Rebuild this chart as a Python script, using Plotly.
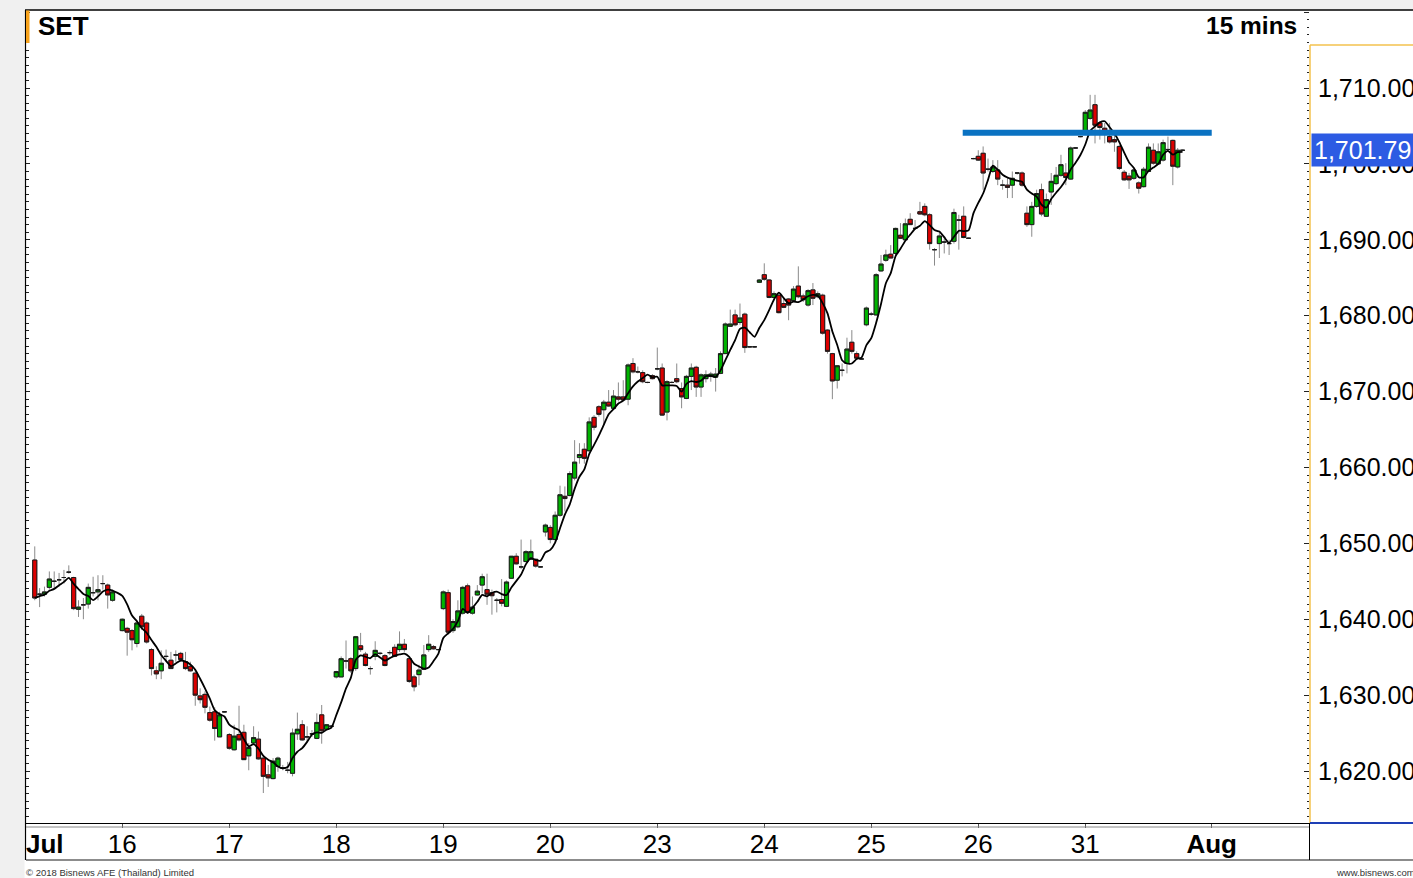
import plotly.graph_objects as go
import pandas as pd

# ---------------- data (15-minute bars, SET index) ----------------
day_labels = ["Jul", "16", "17", "18", "19", "20", "23", "24", "25", "26", "31"]
day_first_slot = [4, 0, 0, 0, 0, 0, 0, 0, 0, 0, 0]
slots_per_day = 22
aug_label = "Aug"
aug_slot = 4            # position of the "Aug" label inside the next (empty) day

# (open, high, low, close) per bar
jul13 = [(1647.8, 1649.6, 1642.5, 1642.8), (1643.3, 1644.1, 1641.6, 1643.3), (1643.3, 1644.3, 1643.0, 1643.6),
         (1644.2, 1646.3, 1643.9, 1645.3), (1645.0, 1646.3, 1644.1, 1645.0), (1645.2, 1646.1, 1644.3, 1645.2),
         (1645.5, 1646.5, 1644.7, 1645.5), (1646.2, 1647.1, 1646.0, 1646.2), (1645.5, 1645.6, 1641.2, 1641.4),
         (1641.3, 1642.5, 1640.3, 1641.6), (1641.9, 1642.8, 1640.0, 1641.9), (1642.0, 1644.7, 1641.4, 1644.2),
         (1643.5, 1645.6, 1643.0, 1643.5), (1643.6, 1645.8, 1642.5, 1643.9), (1644.7, 1645.8, 1643.9, 1644.7),
         (1644.5, 1644.7, 1641.4, 1643.2), (1642.5, 1643.9, 1642.3, 1643.6)]
jul16 = [(1638.5, 1640.1, 1638.4, 1640.0), (1638.8, 1639.0, 1635.2, 1638.3), (1638.5, 1638.7, 1635.9, 1637.3),
         (1636.8, 1639.9, 1636.3, 1639.5), (1640.4, 1640.7, 1638.6, 1639.0), (1639.5, 1639.7, 1636.8, 1637.0),
         (1636.0, 1636.2, 1632.6, 1633.5), (1633.2, 1633.8, 1632.1, 1632.8), (1633.2, 1635.9, 1632.1, 1634.2),
         (1635.1, 1636.0, 1634.4, 1635.1), (1634.6, 1635.7, 1633.5, 1633.5), (1635.3, 1635.9, 1634.4, 1635.3),
         (1635.5, 1635.7, 1634.4, 1634.7), (1634.4, 1635.7, 1633.3, 1633.5), (1633.8, 1634.4, 1633.1, 1633.2),
         (1632.9, 1633.3, 1628.6, 1630.0), (1629.9, 1630.9, 1628.9, 1629.4), (1630.1, 1630.5, 1627.6, 1628.4),
         (1627.7, 1628.5, 1626.5, 1626.7), (1627.8, 1628.4, 1624.0, 1625.6), (1624.5, 1627.8, 1624.5, 1627.4),
         (1627.8, 1627.9, 1627.7, 1627.8)]
jul17 = [(1624.8, 1625.0, 1622.8, 1623.0), (1622.8, 1626.1, 1622.7, 1624.6), (1624.8, 1628.6, 1623.9, 1624.1),
         (1625.1, 1626.1, 1621.5, 1621.5), (1622.0, 1623.7, 1620.1, 1623.1), (1623.7, 1625.9, 1623.4, 1624.4),
         (1624.2, 1625.2, 1621.5, 1621.6), (1621.7, 1621.9, 1617.1, 1619.3), (1619.5, 1620.8, 1617.9, 1619.1),
         (1619.0, 1621.7, 1618.9, 1621.3), (1620.6, 1621.9, 1619.9, 1621.7), (1620.4, 1620.8, 1620.1, 1620.4),
         (1620.1, 1621.2, 1619.7, 1620.1), (1619.7, 1625.6, 1619.3, 1625.0), (1624.9, 1627.7, 1624.1, 1625.5),
         (1626.1, 1626.7, 1624.0, 1624.1), (1624.5, 1625.9, 1623.9, 1624.5), (1624.9, 1625.4, 1624.5, 1624.9),
         (1624.3, 1627.6, 1624.2, 1626.4), (1627.4, 1628.7, 1623.6, 1625.3), (1625.5, 1626.2, 1625.4, 1626.1),
         (1625.9, 1626.0, 1625.8, 1625.9)]
jul18 = [(1632.4, 1633.2, 1632.2, 1633.1), (1632.4, 1635.1, 1632.4, 1634.8), (1634.5, 1637.2, 1633.5, 1634.5),
         (1634.8, 1635.0, 1632.9, 1633.2), (1633.5, 1637.8, 1633.2, 1637.7), (1636.5, 1638.2, 1635.7, 1636.0),
         (1635.4, 1635.7, 1633.8, 1633.9), (1633.5, 1633.8, 1632.7, 1633.5), (1635.1, 1637.1, 1634.6, 1635.9),
         (1635.5, 1635.7, 1635.3, 1635.5), (1635.2, 1635.4, 1633.8, 1633.9), (1635.6, 1635.9, 1635.3, 1635.6),
         (1636.3, 1636.7, 1635.0, 1635.1), (1636.0, 1638.4, 1635.7, 1636.7), (1636.7, 1637.4, 1635.7, 1636.0),
         (1634.8, 1635.0, 1631.6, 1631.8), (1632.4, 1632.7, 1630.5, 1631.1), (1632.7, 1634.0, 1631.3, 1633.3),
         (1633.4, 1636.6, 1633.3, 1635.3), (1636.0, 1637.9, 1635.7, 1636.7), (1636.4, 1636.6, 1636.0, 1636.1),
         (1636.0, 1636.1, 1635.9, 1636.0)]
jul19 = [(1641.4, 1643.8, 1641.2, 1643.6), (1643.5, 1643.9, 1638.0, 1638.3), (1638.5, 1640.0, 1638.2, 1639.7),
         (1639.0, 1642.5, 1638.8, 1641.1), (1640.8, 1644.4, 1640.6, 1644.2), (1644.4, 1644.7, 1640.7, 1640.9),
         (1640.8, 1643.0, 1640.6, 1641.6), (1643.2, 1644.5, 1643.1, 1643.7), (1644.5, 1646.0, 1643.4, 1645.6),
         (1643.9, 1646.0, 1641.9, 1643.3), (1643.5, 1643.9, 1640.6, 1643.1), (1642.5, 1642.8, 1640.9, 1642.5),
         (1642.6, 1645.3, 1641.7, 1642.1), (1641.7, 1645.1, 1641.6, 1644.9), (1645.4, 1648.3, 1645.3, 1648.3),
         (1648.3, 1648.7, 1647.2, 1647.3), (1646.9, 1650.5, 1646.6, 1646.9), (1647.6, 1649.1, 1647.5, 1648.9),
         (1647.9, 1650.5, 1647.8, 1648.9), (1647.9, 1648.0, 1646.8, 1647.0), (1646.9, 1647.0, 1646.8, 1646.9),
         (1651.5, 1652.6, 1650.9, 1652.4)]
jul20 = [(1652.1, 1652.4, 1650.0, 1650.5), (1650.5, 1654.2, 1650.2, 1653.7), (1653.7, 1657.6, 1653.5, 1656.4),
         (1656.2, 1657.5, 1654.2, 1655.9), (1656.3, 1659.5, 1656.2, 1659.2), (1658.6, 1663.6, 1658.3, 1660.7),
         (1661.3, 1663.2, 1660.5, 1661.7), (1662.4, 1663.2, 1660.5, 1661.2), (1662.2, 1666.6, 1662.0, 1666.0),
         (1666.6, 1666.9, 1664.9, 1665.3), (1668.0, 1668.2, 1666.7, 1667.0), (1667.6, 1668.9, 1665.6, 1668.6),
         (1668.6, 1670.2, 1668.0, 1668.1), (1667.8, 1670.2, 1667.6, 1669.4), (1669.3, 1671.2, 1668.7, 1669.0),
         (1669.3, 1671.5, 1668.8, 1668.9), (1669.0, 1673.7, 1668.2, 1673.5), (1673.7, 1674.4, 1672.4, 1672.6),
         (1672.6, 1673.3, 1672.4, 1672.6), (1672.5, 1672.8, 1671.1, 1671.3), (1671.2, 1671.3, 1671.1, 1671.2),
         (1672.1, 1672.3, 1671.6, 1671.7)]
jul23 = [(1673.0, 1675.8, 1672.8, 1673.0), (1673.1, 1673.7, 1666.8, 1666.9), (1667.3, 1671.5, 1666.2, 1671.3),
         (1671.2, 1671.4, 1671.1, 1671.2), (1671.7, 1673.7, 1671.1, 1671.3), (1670.4, 1671.2, 1667.8, 1669.3),
         (1669.1, 1672.2, 1669.0, 1672.0), (1672.0, 1673.7, 1670.2, 1673.1), (1673.2, 1673.4, 1669.3, 1670.6),
         (1670.6, 1672.4, 1669.3, 1672.2), (1671.7, 1672.8, 1671.2, 1672.2), (1672.0, 1672.6, 1671.3, 1672.3),
         (1671.9, 1673.1, 1670.0, 1672.3), (1672.4, 1675.3, 1672.3, 1675.0), (1675.0, 1679.1, 1675.0, 1678.9),
         (1678.6, 1680.8, 1678.6, 1678.9), (1680.1, 1680.8, 1678.6, 1678.8), (1679.1, 1681.6, 1678.8, 1679.7),
         (1680.2, 1680.4, 1675.1, 1675.8), (1675.9, 1676.0, 1675.8, 1675.9), (1675.9, 1676.0, 1675.8, 1675.9),
         (1684.4, 1684.8, 1684.3, 1684.7)]
jul24 = [(1685.4, 1686.9, 1684.6, 1684.8), (1684.7, 1684.8, 1682.3, 1682.4), (1682.4, 1683.2, 1682.3, 1682.9),
         (1682.7, 1682.9, 1680.3, 1680.4), (1681.6, 1682.2, 1681.0, 1681.1), (1682.2, 1682.3, 1679.4, 1681.4),
         (1682.0, 1683.9, 1681.8, 1683.5), (1683.9, 1686.5, 1682.3, 1682.5), (1682.6, 1682.9, 1681.8, 1682.1),
         (1681.4, 1683.5, 1681.2, 1683.3), (1683.4, 1684.3, 1681.4, 1682.3), (1682.5, 1683.2, 1682.3, 1682.9),
         (1682.7, 1682.9, 1677.5, 1677.7), (1678.1, 1678.2, 1675.0, 1675.3), (1675.0, 1675.1, 1669.0, 1671.4),
         (1671.5, 1673.5, 1670.4, 1673.4), (1672.8, 1673.7, 1672.0, 1672.8), (1673.7, 1677.1, 1672.4, 1675.6),
         (1676.5, 1678.1, 1675.0, 1675.3), (1675.0, 1675.3, 1674.2, 1674.4), (1674.3, 1674.4, 1674.2, 1674.3),
         (1678.8, 1681.2, 1678.6, 1681.0)]
jul25 = [(1680.2, 1680.5, 1680.0, 1680.2), (1680.1, 1685.6, 1680.0, 1685.4), (1685.9, 1688.0, 1685.8, 1686.8),
         (1687.3, 1688.7, 1687.1, 1688.0), (1688.1, 1689.3, 1687.6, 1687.6), (1688.2, 1691.6, 1688.0, 1691.5),
         (1690.6, 1692.2, 1690.1, 1690.2), (1690.0, 1692.8, 1689.8, 1692.1), (1692.7, 1693.5, 1692.0, 1692.0),
         (1691.5, 1692.6, 1691.3, 1691.5), (1693.7, 1695.0, 1693.3, 1693.4), (1694.4, 1694.8, 1693.1, 1693.3),
         (1693.3, 1693.5, 1688.7, 1689.5), (1688.7, 1688.9, 1686.6, 1688.7), (1689.5, 1690.9, 1687.6, 1690.5),
         (1689.7, 1690.2, 1688.2, 1689.7), (1689.5, 1690.0, 1688.0, 1689.5), (1689.8, 1694.1, 1689.5, 1693.6),
         (1692.6, 1693.3, 1688.7, 1692.6), (1693.1, 1694.4, 1690.2, 1690.3), (1690.2, 1690.3, 1690.1, 1690.2),
         (1700.7, 1700.8, 1700.6, 1700.7)]
jul26 = [(1701.0, 1701.8, 1700.4, 1700.5), (1701.4, 1702.3, 1696.6, 1698.8), (1699.3, 1700.7, 1699.0, 1699.3),
         (1699.0, 1700.5, 1698.8, 1699.6), (1699.2, 1700.5, 1697.2, 1698.0), (1697.2, 1697.9, 1696.6, 1697.2),
         (1697.2, 1698.3, 1695.5, 1696.9), (1697.2, 1699.0, 1695.5, 1698.1), (1698.8, 1698.9, 1698.6, 1698.8),
         (1698.8, 1699.0, 1697.0, 1697.2), (1693.5, 1694.4, 1691.7, 1692.0), (1692.0, 1695.0, 1690.4, 1694.4),
         (1694.4, 1696.6, 1694.2, 1696.1), (1696.6, 1697.4, 1693.1, 1693.4), (1693.1, 1696.1, 1693.0, 1695.3),
         (1696.3, 1698.8, 1694.6, 1697.7), (1697.4, 1699.6, 1697.2, 1698.5), (1698.5, 1701.2, 1698.3, 1699.9),
         (1698.8, 1700.1, 1697.2, 1698.2), (1698.0, 1702.3, 1697.9, 1702.1), (1702.1, 1702.2, 1702.0, 1702.1),
         (1703.6, 1703.7, 1703.5, 1703.6)]
jul31 = [(1704.3, 1707.1, 1704.0, 1706.8), (1706.0, 1709.1, 1705.8, 1707.1), (1707.8, 1709.1, 1702.7, 1705.1),
         (1705.4, 1705.6, 1703.2, 1704.8), (1704.7, 1705.4, 1702.7, 1704.3), (1703.6, 1705.4, 1702.7, 1702.9),
         (1703.2, 1704.0, 1701.6, 1702.9), (1702.3, 1702.5, 1699.2, 1699.4), (1698.9, 1699.2, 1697.8, 1697.9),
         (1698.4, 1698.8, 1696.7, 1697.9), (1698.1, 1699.4, 1697.9, 1699.2), (1697.5, 1697.7, 1696.1, 1696.8),
         (1697.0, 1699.6, 1696.9, 1699.3), (1699.0, 1702.7, 1698.9, 1702.2), (1701.8, 1702.7, 1699.9, 1700.1),
         (1700.0, 1702.7, 1699.9, 1701.6), (1700.5, 1703.2, 1700.3, 1702.8), (1701.9, 1703.6, 1701.6, 1701.9),
         (1703.1, 1703.2, 1697.2, 1699.7), (1699.6, 1702.1, 1699.4, 1701.8), (1701.8, 1701.9, 1701.7, 1701.79)]
days_ohlc = [jul13, jul16, jul17, jul18, jul19, jul20, jul23, jul24, jul25, jul26, jul31]

ma_period = 5
resistance_level = 1704.1
resistance_start = (8, 18.8)    # (day index, slot)
resistance_end = (11, 4.0)

# ---------------- build series ----------------
xs, opens, highs, lows, closes = [], [], [], [], []
for d, (bars, first) in enumerate(zip(days_ohlc, day_first_slot)):
    for k, (bo, bh, bl, bc) in enumerate(bars):
        xs.append(d * slots_per_day + first + k)
        opens.append(bo); highs.append(bh); lows.append(bl); closes.append(bc)
body_hi = [max(a, b) for a, b in zip(opens, closes)]
body_lo = [min(a, b) for a, b in zip(opens, closes)]
ma = pd.Series(closes).rolling(ma_period, min_periods=1).mean().tolist()

GREEN = "#00B400"
RED = "#DC0000"
REG = "Liberation Sans, Arial, sans-serif"

W, H = 1413, 878
L, R, T, B = 26, 104, 10, 55
PW, PH = W - L - R, H - T - B


def px(xp):
    return (xp - L) / PW


def py(yp):
    return (H - B - yp) / PH


fig = go.Figure()
# wicks (grey)
fig.add_trace(go.Candlestick(
    x=xs, open=opens, high=highs, low=lows, close=closes,
    increasing=dict(line=dict(color="#8a8a8a", width=1), fillcolor=GREEN),
    decreasing=dict(line=dict(color="#8a8a8a", width=1), fillcolor=RED),
    hoverinfo="skip", showlegend=False))
# bodies with dark outline
fig.add_trace(go.Candlestick(
    x=xs, open=opens, high=body_hi, low=body_lo, close=closes,
    increasing=dict(line=dict(color="#1a1a1a", width=1), fillcolor=GREEN),
    decreasing=dict(line=dict(color="#1a1a1a", width=1), fillcolor=RED),
    hoverinfo="skip", showlegend=False))
# moving average
fig.add_trace(go.Scatter(x=xs, y=ma, mode="lines",
                         line=dict(color="black", width=1.8, shape="spline", smoothing=0.6),
                         hoverinfo="skip", showlegend=False))
# resistance line
rx0 = resistance_start[0] * slots_per_day + resistance_start[1]
rx1 = resistance_end[0] * slots_per_day + resistance_end[1]
fig.add_trace(go.Scatter(x=[rx0, rx1], y=[resistance_level, resistance_level], mode="lines",
                         line=dict(color="#0A72C2", width=6), yaxis="y2",
                         hoverinfo="skip", showlegend=False))

tickvals = [d * slots_per_day for d in range(1, len(day_labels))] + [len(day_labels) * slots_per_day + aug_slot]
ticktext = day_labels[1:] + ["<b>%s</b>" % aug_label]

yr = [1613.15, 1720.28]
fig.update_layout(
    width=W, height=H, margin=dict(l=L, r=R, t=T, b=B, autoexpand=False),
    paper_bgcolor="white", plot_bgcolor="white",
    boxgap=0.15, boxgroupgap=0,
    xaxis=dict(range=[2.2, 266.0], rangeslider=dict(visible=False), showgrid=False, zeroline=False,
               tickvals=tickvals, ticktext=ticktext, ticks="outside", ticklen=4, tickcolor="#555",
               ticklabelstandoff=-6,
               showline=True, linecolor="black", linewidth=1,
               tickfont=dict(family=REG, size=26, color="black")),
    yaxis=dict(range=yr, side="right", showgrid=False, zeroline=False, tick0=1620, dtick=10,
               tickformat=",.2f", ticks="inside", ticklen=5, tickcolor="#222",
               minor=dict(dtick=1, ticks="inside", ticklen=2.5, tickcolor="#222"),
               ticklabelstandoff=8,
               tickfont=dict(family=REG, size=25, color="black")),
    yaxis2=dict(range=yr, overlaying="y", side="left", showgrid=False, zeroline=False,
                showticklabels=False, tick0=1620, dtick=10, ticks="inside", ticklen=4, tickcolor="#222",
                minor=dict(dtick=1, ticks="inside", ticklen=2.5, tickcolor="#222")),
)

shapes = [
    # grey outer margins
    dict(type="rect", xref="paper", yref="paper", x0=px(0), x1=px(24.5), y0=py(H), y1=py(0),
         fillcolor="#F0F0F0", line=dict(width=0), layer="above"),
    dict(type="rect", xref="paper", yref="paper", x0=px(0), x1=px(W), y0=py(9.5), y1=py(0),
         fillcolor="#F0F0F0", line=dict(width=0), layer="above"),
    # frame lines
    dict(type="line", xref="paper", yref="paper", x0=px(25), x1=px(W), y0=py(10), y1=py(10),
         line=dict(color="black", width=1.5)),
    dict(type="line", xref="paper", yref="paper", x0=px(25.5), x1=px(25.5), y0=py(10), y1=py(860),
         line=dict(color="black", width=1.2)),
    dict(type="line", xref="paper", yref="paper", x0=px(26), x1=px(1309), y0=py(827), y1=py(827),
         line=dict(color="#888888", width=1)),
    dict(type="line", xref="paper", yref="paper", x0=px(26), x1=px(W), y0=py(860), y1=py(860),
         line=dict(color="#666666", width=1.5)),
    dict(type="line", xref="paper", yref="paper", x0=px(1309.5), x1=px(1309.5), y0=py(823), y1=py(860),
         line=dict(color="black", width=1)),
    # right price panel border
    dict(type="line", xref="paper", yref="paper", x0=px(1310), x1=px(1310), y0=py(45), y1=py(823),
         line=dict(color="#F3C24E", width=1.5)),
    dict(type="line", xref="paper", yref="paper", x0=px(1310), x1=px(W), y0=py(45), y1=py(45),
         line=dict(color="#F3C24E", width=1.5)),
    dict(type="line", xref="paper", yref="paper", x0=px(1310), x1=px(W), y0=py(823), y1=py(823),
         line=dict(color="#1E3FB5", width=2)),
    # orange tag at top-left
    dict(type="rect", xref="paper", yref="paper", x0=px(26), x1=px(29.5), y0=py(43), y1=py(10.5),
         fillcolor="#F7A21B", line=dict(width=0)),
]
fig.update_layout(shapes=shapes)

last_close = closes[-1]
annotations = [
    dict(text="<b>SET</b>", xref="paper", yref="paper", x=px(36), y=py(26), xanchor="left", yanchor="middle",
         showarrow=False, font=dict(family=REG, size=26, color="black")),
    dict(text="<b>15 mins</b>", xref="paper", yref="paper", x=px(1299), y=py(26), xanchor="right",
         yanchor="middle", showarrow=False, font=dict(family=REG, size=24.5, color="black")),
    dict(text="<b>%s</b>" % day_labels[0], xref="paper", yref="paper", x=px(24), y=py(844), xanchor="left",
         yanchor="middle", showarrow=False, font=dict(family=REG, size=26, color="black")),
    dict(text="\u00a9 2018 Bisnews AFE (Thailand) Limited", xref="paper", yref="paper", x=px(24), y=py(872),
         xanchor="left", yanchor="middle", showarrow=False, font=dict(family=REG, size=9.5, color="#333333")),
    dict(text="www.bisnews.com", xref="paper", yref="paper", x=px(1334), y=py(872), xanchor="left",
         yanchor="middle", showarrow=False, font=dict(family=REG, size=9.5, color="#333333")),
    dict(text="{:,.2f}".format(last_close), xref="paper", yref="y", x=px(1311), y=last_close, xanchor="left",
         yanchor="middle", showarrow=False, bgcolor="#2D5BE3", borderpad=2,
         font=dict(family=REG, size=25, color="white")),
]
fig.update_layout(annotations=annotations)

fig.write_html("out.html", config={"displayModeBar": False},
               post_script="document.body.style.margin='0px';")
